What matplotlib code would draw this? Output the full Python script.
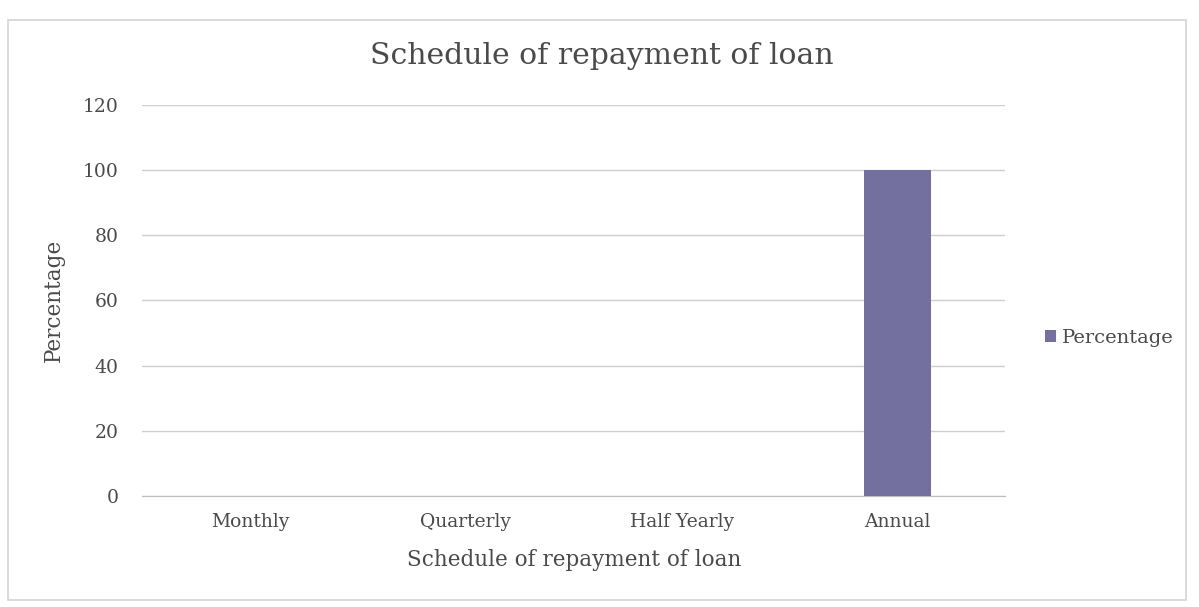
import matplotlib.pyplot as plt
from matplotlib.patches import Rectangle

# Repayment schedule shares
schedules = ["Monthly", "Quarterly", "Half Yearly", "Annual"]
percentage = [0, 0, 0, 100]
y_ticks = [0, 20, 40, 60, 80, 100, 120]

plt.rcParams['font.family'] = ['DejaVu Serif']
text_color = "#4a4a4a"

fig = plt.figure(figsize=(11.99, 6.07), dpi=100)
ax = fig.add_axes([0.1185, 0.183, 0.720, 0.644])

x = range(len(schedules))
ax.bar(x, percentage, width=0.31, color="#736f9f", label="Percentage", zorder=3)

ax.set_xlim(-0.5, len(schedules) - 0.5)
ax.set_ylim(0, 120)
ax.set_yticks(y_ticks)
ax.set_xticks(list(x))
ax.set_xticklabels(schedules)
ax.tick_params(axis='both', length=0, labelsize=13.5, colors=text_color)
ax.tick_params(axis='y', pad=17)
ax.tick_params(axis='x', pad=12)

ax.grid(axis='y', color="#cfcfcf", linewidth=1.0, zorder=0)
for side in ['top', 'right', 'left']:
    ax.spines[side].set_visible(False)
ax.spines['bottom'].set_color("#bdbdbd")

ax.set_xlabel("Schedule of repayment of loan", fontsize=15.5, color=text_color, labelpad=13)
ax.set_ylabel("Percentage", fontsize=15.5, color=text_color, labelpad=13)
fig.text(0.502, 0.908, "Schedule of repayment of loan", fontsize=21.5,
         color=text_color, ha='center', va='center')

fig.legend(loc='center left', bbox_to_anchor=(0.857, 0.443), frameon=False,
           fontsize=14, handlelength=0.55, handleheight=0.55, handletextpad=0.3,
           labelcolor=text_color)

# Outer chart border
fig.patches.append(Rectangle((0.007, 0.012), 0.982, 0.955, transform=fig.transFigure,
                             fill=False, edgecolor="#d4d4d4", linewidth=1.2))

fig.savefig("out.png", dpi=100, facecolor="white")
